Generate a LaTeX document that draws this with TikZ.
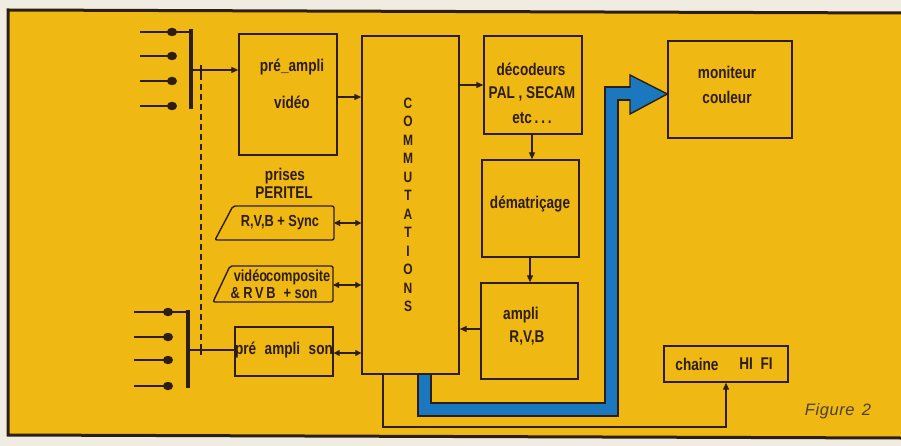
\documentclass[tikz,border=0pt]{standalone}
\usepackage{fontspec}
\setmainfont{Liberation Sans}
\newfontfamily\lab{Liberation Sans}[FakeStretch=0.8]
\usetikzlibrary{arrows.meta,calc,shapes.geometric}
\definecolor{bgy}{RGB}{240,184,18}
\definecolor{ink}{RGB}{45,30,20}
\definecolor{cream}{RGB}{240,236,226}
\definecolor{bblue}{RGB}{28,120,190}
\tikzset{
  box/.style={draw=ink, line width=1.4pt, inner sep=0pt, fill=none},
  lbl/.style={text=ink, inner sep=0pt, font=\lab\bfseries\fontsize{17}{19}\selectfont},
  slbl/.style={text=ink, inner sep=0pt, font=\lab\bfseries\fontsize{16}{18}\selectfont},
  cl/.style={text=ink, inner sep=0pt, font=\lab\bfseries\fontsize{15}{17}\selectfont},
  wire/.style={draw=ink, line width=1.2pt},
  arr/.style={wire, -{Triangle[length=7pt,width=6pt]}},
  darr/.style={wire, {Triangle[length=6pt,width=6pt]}-{Triangle[length=6pt,width=6pt]}},
  contact/.style={fill=ink, ellipse, minimum width=10pt, minimum height=8.5pt, inner sep=0pt},
}
\begin{document}
\begin{tikzpicture}[x=1pt,y=-1pt,line join=miter]
\useasboundingbox (0,0) rectangle (901,446);
% background
\fill[cream] (0,0) rectangle (901,446);
\fill[bgy] (8,10) -- (901,13) -- (901,438) -- (8,435) -- cycle;
\draw[ink, line width=3pt] (901,13) -- (8,10) -- (8,435) -- (901,438);

% boxes
\node[box, minimum width=98pt, minimum height=121pt] (pav) at (288,94.5) {};
\node[box, minimum width=97pt, minimum height=338pt] (com) at (410.5,205) {};
\node[box, minimum width=98pt, minimum height=98pt] (dec) at (533,85) {};
\node[box, minimum width=97pt, minimum height=97pt] (dem) at (530.5,208.5) {};
\node[box, minimum width=97pt, minimum height=96pt] (amp) at (529.5,331) {};
\node[box, minimum width=124pt, minimum height=97pt] (mon) at (730,89.5) {};
\node[box, minimum width=124pt, minimum height=36pt] (hifi) at (726,364) {};
\node[box, minimum width=98pt, minimum height=49pt] (pas) at (284,351.5) {};

% trapezoids (prises PERITEL)
\draw[ink, line width=1.4pt, rounded corners=2pt] (215,240) -- (233,206) -- (334,206) -- (334,240) -- cycle;
\draw[ink, line width=1.4pt, rounded corners=2pt] (213,302) -- (230,266) -- (333,266) -- (333,302) -- cycle;
\coordinate (t1e) at (334,223);
\coordinate (t2e) at (333,285);

% texts
\node[lbl] (pavA) at (292,67) {pré\_ampli};
\node[lbl] (pavB) at (292,102) {vidéo};
\node[lbl] (decA) at (531,69) {décodeurs};
\node[lbl] (decB) at (532,94) {PAL , SECAM};
\node[lbl] (decC) at (532,118) {etc\,.\,.\,.};
\node[lbl] (demA) at (530,204) {dématriçage};
\node[lbl] (ampA) at (521,315) {ampli};
\node[lbl] (ampB) at (527,338) {R,V,B};
\node[lbl] (monA) at (727,72) {moniteur};
\node[lbl] (monB) at (727,97) {couleur};
\node[lbl] (hifiA) at (697,364) {chaine};
\node[lbl] (hifiB) at (756,364) {HI\;\,FI};
\node[lbl] (pasA) at (284,350) {pré\; ampli\; son};
\node[lbl] (prA) at (285,176) {prises};
\node[lbl] (prB) at (284,193) {PERITEL};
\node[slbl] (t1A) at (280,223) {R,V,B + Sync};
\node[slbl] (t2A) at (282,277) {vidéo\hspace{-1pt}composite};
\node[slbl] (t2B) at (274,293) {\& R\,V\,B\; + son};
\foreach \l [count=\i from 0] in {C,O,M,M,U,T,A,T,I,O,N,S}
  \node[cl] (c\i) at (408,103+18.5*\i) {\l};
\node[text=ink!85, inner sep=0pt, font=\fontsize{16.5}{18}\selectfont\itshape] (fig) at (838,411) {F\kern.6pt i\kern.6pt g\kern.6pt u\kern.6pt r\kern.6pt e\;\,2};

% signal arrows
\draw[arr] ([yshift=-2.5pt]pav.east) -- ([yshift=-2.5pt]pav.east -| com.west);
\draw[arr] (dec.west -| com.east) -- (dec.west);
\draw[arr] (dec.south -| 532,0) -- (dem.north -| 532,0);
\draw[arr] (dem.south -| 530,0) -- (amp.north -| 530,0);
\draw[arr] ([yshift=2pt]amp.west) -- ([yshift=2pt]amp.west -| com.east);
\draw[darr] (t1e) -- (t1e -| com.west);
\draw[darr] (t2e) -- (t2e -| com.west);
\draw[darr] ([yshift=-1.5pt]pas.east) -- ([yshift=-1.5pt]pas.east -| com.west);

% left input switches (top)
\foreach \y in {32,56,81,106} {
  \draw[wire] (140,\y) -- (170,\y);
  \node[contact] at (172,\y) {};
}
\draw[wire] (172,32) -- (191,32);
\draw[ink, line width=3.5pt] (191,29) -- (191,109);
\coordinate (bar1) at (191,70);
\draw[arr] (bar1) -- (bar1 -| pav.west);
% left input switches (bottom)
\foreach \y in {312,337,360,386} {
  \draw[wire] (134,\y) -- (166,\y);
  \node[contact] at (168,\y) {};
}
\draw[wire] (168,312) -- (188,312);
\draw[ink, line width=3.5pt] (188,310) -- (188,388);
\coordinate (bar2) at (188,350);
\draw[wire] (bar2) -- (bar2 -| pas.west);
% dashed link + ticks
\draw[ink, line width=2pt, dash pattern=on 6pt off 4pt] (201,74) -- (201,346);
\draw[ink, line width=1.5pt] (201,65) -- (201,75) (201,345) -- (201,355);

% blue video bus
\coordinate (bs) at (com.south -| 424,0);
\coordinate (bk1) at (424,409);
\coordinate (bk2) at (611,409);
\coordinate (bk3) at (611,94);
\coordinate (be) at (631,94);
\draw[ink, line width=15pt] (bs) -- (bk1) -- (bk2) -- (bk3) -- (be);
\draw[fill=bblue, draw=ink, line width=1.4pt] (630,75) -- (mon.west |- be) -- (630,114) -- cycle;
\draw[bblue, line width=11pt] ([yshift=-0.5pt]bs) -- (bk1) -- (bk2) -- (bk3) -- ([xshift=2pt]be);

% link to HI FI
\coordinate (hs) at (com.south -| 383,0);
\coordinate (hk1) at (383,427);
\coordinate (hk2) at (hifi.south |- hk1);
\draw[arr] (hs) -- (hk1) -- (hk2) -- (hifi.south);
\end{tikzpicture}
\end{document}
